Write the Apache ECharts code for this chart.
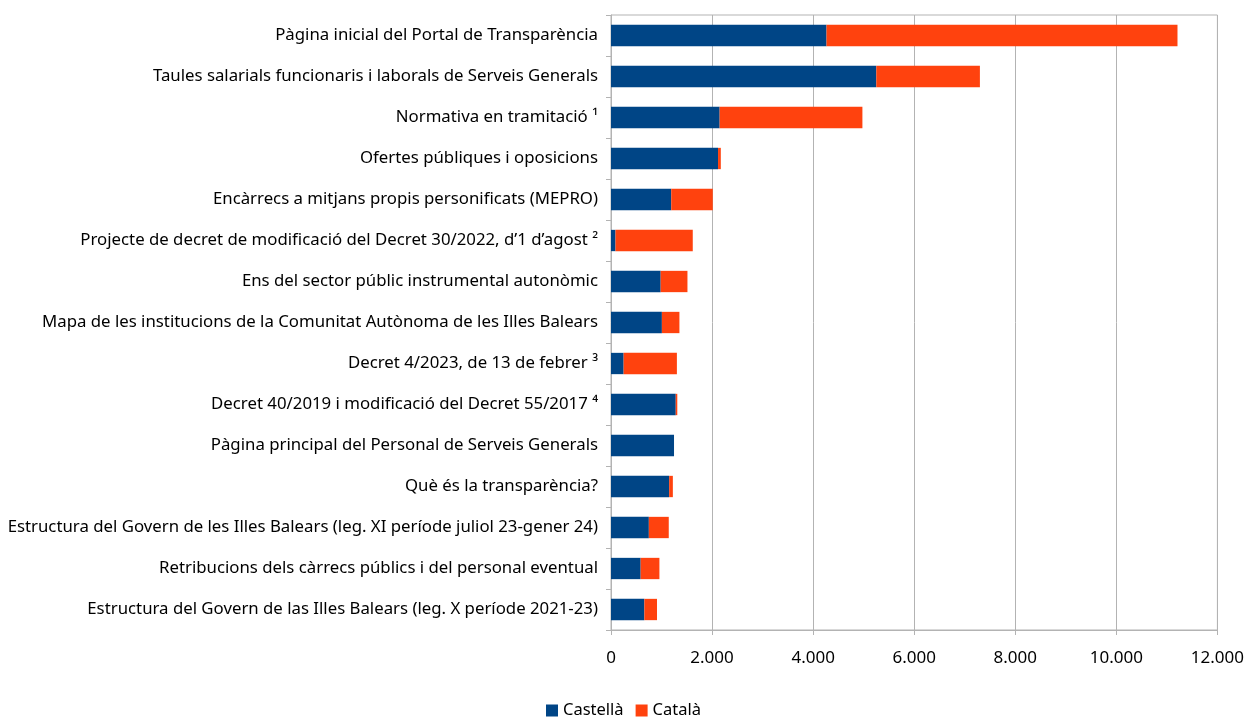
<!DOCTYPE html>
<html>
<head>
<meta charset="utf-8">
<script src="https://cdn.jsdelivr.net/npm/echarts@6/dist/echarts.min.js"></script>
<style>html,body{margin:0;padding:0;background:#fff}#c{width:1247px;height:717px}</style>
</head>
<body>
<div id="c"></div>
<script>
const categories = [
  "Pàgina inicial del Portal de Transparència",
  "Taules salarials funcionaris i laborals de Serveis Generals",
  "Normativa en tramitació ¹",
  "Ofertes públiques i oposicions",
  "Encàrrecs a mitjans propis personificats (MEPRO)",
  "Projecte de decret de modificació del Decret 30/2022, d’1 d’agost ²",
  "Ens del sector públic instrumental autonòmic",
  "Mapa de les institucions de la Comunitat Autònoma de les Illes Balears",
  "Decret 4/2023, de 13 de febrer ³",
  "Decret 40/2019 i modificació del Decret 55/2017 ⁴",
  "Pàgina principal del Personal de Serveis Generals",
  "Què és la transparència?",
  "Estructura del Govern de les Illes Balears (leg. XI període juliol 23-gener 24)",
  "Retribucions dels càrrecs públics i del personal eventual",
  "Estructura del Govern de las Illes Balears (leg. X període 2021-23)"
];
const castella = [4265, 5250, 2150, 2118, 1192, 89, 983, 1007, 250, 1281, 1247, 1151, 749, 587, 660];
const catala   = [6945, 2050, 2825,   55,  822, 1529, 530, 347, 1054, 31,   0,   73, 394, 371, 250];
const seriesNames = ["Castellà", "Català"];
const xTicks = { min: 0, max: 12000, interval: 2000 };

const chart = echarts.init(document.getElementById('c'), null, {renderer: 'canvas'});
const font = "'Noto Sans', 'Open Sans', sans-serif";
chart.setOption({
  animation: false,
  textStyle: { fontFamily: font },
  grid: { left: 611, right: 27, top: 15, bottom: 87, show: true, borderColor: '#b3b3b3', borderWidth: 1 },
  legend: {
    data: seriesNames, top: 697, left: 'center', icon: 'rect', itemWidth: 12, itemHeight: 12, itemGap: 12,
    textStyle: { fontFamily: font, fontSize: 16.5, color: '#000' }
  },
  xAxis: {
    type: 'value', min: xTicks.min, max: xTicks.max, interval: xTicks.interval,
    axisLine: { show: true, lineStyle: { color: '#b3b3b3' } },
    axisTick: { show: true, length: 5, lineStyle: { color: '#b3b3b3' } },
    splitLine: { show: true, lineStyle: { color: '#b3b3b3', width: 1 } },
    axisLabel: { fontFamily: font, fontSize: 17, color: '#000', margin: 20,
      formatter: v => String(v).replace(/\B(?=(\d{3})+(?!\d))/g, '.') }
  },
  yAxis: {
    type: 'category', data: categories, inverse: true,
    axisLine: { show: true, lineStyle: { color: '#b3b3b3' } },
    axisTick: { show: true, length: 5, alignWithLabel: false, lineStyle: { color: '#b3b3b3' } },
    axisLabel: { fontFamily: font, fontSize: 16.8, color: '#000', margin: 13 }
  },
  series: [
    { name: seriesNames[0], type: 'bar', stack: 's', data: castella, barCategoryGap: '48%', itemStyle: { color: '#004586' } },
    { name: seriesNames[1], type: 'bar', stack: 's', data: catala, barCategoryGap: '48%', itemStyle: { color: '#ff420e' } }
  ]
});
</script>
</body>
</html>
